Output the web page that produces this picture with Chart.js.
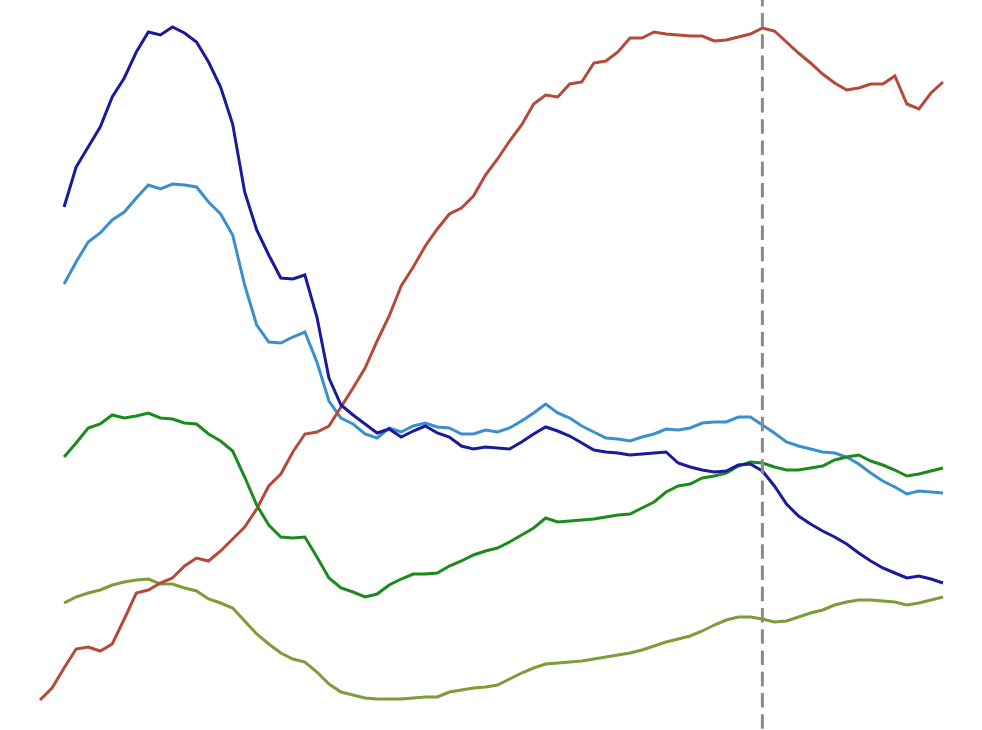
<!DOCTYPE html>
<html>
<head>
<meta charset="utf-8">
<script src="https://cdn.jsdelivr.net/npm/chart.js@4/dist/chart.umd.min.js"></script>
<style>
  html, body { margin: 0; padding: 0; background: #ffffff; }
  #wrap { width: 982px; height: 730px; }
</style>
</head>
<body>
<div id="wrap"><canvas id="c" width="982" height="730"></canvas></div>
<script>
const periods = [0,1,2,3,4,5,6,7,8,9,10,11,12,13,14,15,16,17,18,19,20,21,22,23,24,25,26,27,28,29,30,31,32,33,34,35,36,37,38,39,40,41,42,43,44,45,46,47,48,49,50,51,52,53,54,55,56,57,58,59,60,61,62,63,64,65,66,67,68,69,70,71,72,73,74,75];

const redSeries = [3.0,4.2,6.2,8.1,8.3,7.9,8.6,11.1,13.7,14.0,14.7,15.2,16.4,17.2,16.9,17.9,19.1,20.3,22.1,24.4,25.6,27.8,29.6,29.8,30.4,32.3,34.2,36.2,38.9,41.4,44.4,46.3,48.4,50.1,51.6,52.2,53.4,55.5,57.1,58.9,60.5,62.6,63.5,63.3,64.6,64.8,66.7,66.9,67.8,69.2,69.2,69.8,69.6,69.5,69.4,69.4,68.9,69.0,69.3,69.6,70.2,69.9,68.8,67.7,66.7,65.6,64.7,64.0,64.2,64.6,64.6,65.4,62.6,62.1,63.7,64.8];

const navySeries = [null,null,52.3,56.3,58.3,60.3,63.3,65.2,67.8,69.8,69.5,70.3,69.7,68.8,66.8,64.3,60.6,53.8,50.0,47.5,45.2,45.1,45.5,41.3,35.2,32.5,31.5,30.6,29.7,30.1,29.3,29.9,30.4,29.7,29.3,28.4,28.1,28.3,28.2,28.1,28.8,29.6,30.3,29.9,29.4,28.7,28.0,27.8,27.7,27.5,27.6,27.7,27.8,26.7,26.3,26.0,25.8,25.9,26.5,26.6,25.9,24.4,22.6,21.4,20.6,19.9,19.3,18.6,17.7,16.9,16.2,15.7,15.2,15.4,15.1,14.7];

const skySeries = [null,null,44.6,46.8,48.8,49.7,51.0,51.8,53.2,54.5,54.1,54.6,54.5,54.3,52.8,51.6,49.5,44.5,40.5,38.8,38.7,39.3,39.8,36.8,32.9,31.2,30.6,29.6,29.2,30.2,29.8,30.4,30.7,30.3,30.2,29.6,29.6,30.0,29.8,30.2,30.9,31.7,32.6,31.7,31.2,30.4,29.8,29.2,29.1,28.9,29.3,29.6,30.1,30.0,30.2,30.7,30.8,30.8,31.3,31.3,30.5,29.7,28.8,28.4,28.1,27.8,27.7,27.3,26.6,25.7,24.9,24.3,23.6,23.9,23.8,23.7];

const greenSeries = [null,null,27.3,28.7,30.2,30.6,31.5,31.2,31.4,31.7,31.2,31.1,30.7,30.6,29.6,28.9,27.9,25.3,22.5,20.5,19.3,19.2,19.3,17.3,15.2,14.2,13.8,13.3,13.6,14.5,15.1,15.6,15.6,15.7,16.4,16.9,17.5,17.9,18.2,18.8,19.5,20.2,21.2,20.8,20.9,21.0,21.1,21.3,21.5,21.6,22.2,22.8,23.8,24.4,24.6,25.2,25.4,25.7,26.4,26.8,26.7,26.3,26.0,26.0,26.2,26.4,27.0,27.3,27.5,26.9,26.5,26.0,25.4,25.6,25.9,26.2];

const oliveSeries = [null,null,12.7,13.3,13.7,14.0,14.5,14.8,15.0,15.1,14.6,14.6,14.2,13.9,13.1,12.7,12.2,10.9,9.6,8.6,7.7,7.1,6.8,5.8,4.6,3.8,3.5,3.2,3.1,3.1,3.1,3.2,3.3,3.3,3.8,4.0,4.2,4.3,4.5,5.1,5.7,6.2,6.6,6.7,6.8,6.9,7.1,7.3,7.5,7.7,8.0,8.4,8.8,9.1,9.4,9.9,10.5,11.0,11.3,11.3,11.1,10.8,10.9,11.3,11.7,12.0,12.5,12.8,13.0,13.0,12.9,12.8,12.5,12.7,13.0,13.3];

const markerPeriod = 60;
const yMin = 0;
const yMax = 73;

const markerPlugin = {
  id: 'marker',
  afterDatasetsDraw(chart) {
    const ctx = chart.ctx;
    const x = chart.scales.x.getPixelForValue(markerPeriod);
    ctx.save();
    ctx.strokeStyle = '#8a8a8a';
    ctx.lineWidth = 3;
    ctx.setLineDash([14.5, 6.75]);
    ctx.lineDashOffset = 8.25;
    ctx.beginPath();
    ctx.moveTo(x, 0);
    ctx.lineTo(x, chart.height);
    ctx.stroke();
    ctx.restore();
  }
};

function ds(data, color) {
  return {
    data: data,
    borderColor: color,
    backgroundColor: color,
    borderWidth: 3,
    pointRadius: 0,
    tension: 0,
    fill: false,
    spanGaps: false
  };
}

new Chart(document.getElementById('c'), {
  type: 'line',
  data: {
    labels: periods,
    datasets: [
      ds(navySeries, '#1a1a9c'),
      ds(greenSeries, '#1b8c1b'),
      ds(redSeries, '#b5493a'),
      ds(skySeries, '#3a8fcf'),
      ds(oliveSeries, '#7c9d38')
    ]
  },
  options: {
    responsive: false,
    animation: false,
    layout: { padding: { left: 40, right: 39, top: 0, bottom: 0 } },
    plugins: { legend: { display: false }, tooltip: { enabled: false } },
    scales: {
      x: { display: false, offset: false },
      y: { display: false, min: yMin, max: yMax }
    }
  },
  plugins: [markerPlugin]
});
</script>
</body>
</html>
